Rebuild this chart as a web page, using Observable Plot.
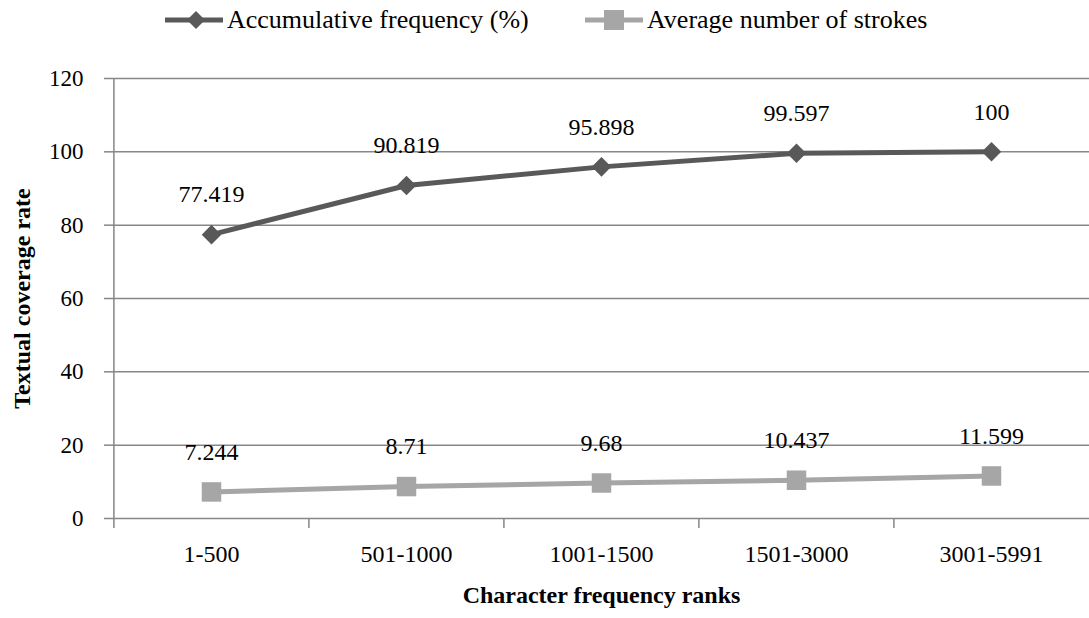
<!DOCTYPE html>
<html>
<head>
<meta charset="utf-8">
<script src="https://cdn.jsdelivr.net/npm/d3@7"></script>
<script src="https://cdn.jsdelivr.net/npm/@observablehq/plot@0.6"></script>
<style>
  body { margin: 0; background: #fff; font-family: "Liberation Serif", "Times New Roman", serif; }
  #legend { position: relative; width: 1089px; height: 50px; font-size: 26px; color: #000; }
  #legend .item { position: absolute; top: 6px; height: 28px; display: flex; align-items: center; white-space: nowrap; }
  #legend svg { display: block; margin-right: 4px; }
  #chart svg { display: block; font-family: "Liberation Serif", "Times New Roman", serif; }
  #chart svg text { font-family: "Liberation Serif", "Times New Roman", serif; }
</style>
</head>
<body>
<div id="legend"></div>
<div id="chart"></div>
<script>
// Character frequency rank groups
const ranks = ["1-500", "501-1000", "1001-1500", "1501-3000", "3001-5991"];
// Accumulative frequency (%) per rank group
const accumulativeFrequency = [77.419, 90.819, 95.898, 99.597, 100];
// Average number of strokes per rank group
const averageStrokes = [7.244, 8.71, 9.68, 10.437, 11.599];
// Value axis ticks
const yTicks = [0, 20, 40, 60, 80, 100, 120];
// Series names and colours
const seriesNames = ["Accumulative frequency (%)", "Average number of strokes"];
const seriesColors = ["#595959", "#a6a6a6"];

const rows = ranks.map((rank, i) => ({
  rank,
  acc: accumulativeFrequency[i],
  strokes: averageStrokes[i]
}));

// ---- legend ----
const legend = document.getElementById("legend");
const legendLeft = [165, 585];
seriesNames.forEach((name, i) => {
  const item = document.createElement("div");
  item.className = "item";
  item.style.left = legendLeft[i] + "px";
  const marker = i === 0
    ? `<polygon points="31,3 40,12 31,21 22,12" fill="${seriesColors[0]}"/>`
    : `<rect x="19" y="2" width="20" height="20" fill="${seriesColors[1]}"/>`;
  item.innerHTML =
    `<svg width="58" height="24"><line x1="0" x2="58" y1="12" y2="12" stroke="${seriesColors[i]}" stroke-width="5"/>${marker}</svg>` +
    `<span>${name}</span>`;
  legend.appendChild(item);
});

// ---- chart ----
const W = 1089, H = 568;
const mL = 113, mR = 0, mT = 28, mB = 100;
const step = (W - mL - mR) / ranks.length;
const axisGray = "#878787";
const serif = "Liberation Serif";

const chart = Plot.plot({
  width: W,
  height: H,
  marginLeft: mL,
  marginRight: mR,
  marginTop: mT,
  marginBottom: mB,
  style: { color: "#000", background: "#fff", overflow: "visible" },
  x: { type: "point", domain: ranks, padding: 0.5, axis: null },
  y: { domain: [0, 120], axis: null },
  marks: [
    Plot.gridY(yTicks, { stroke: axisGray, strokeOpacity: 1, strokeWidth: 1.5 }),
    // vertical value axis line
    Plot.ruleX([ranks[0]], { dx: -step / 2, stroke: axisGray, strokeWidth: 1.5 }),
    // category boundary ticks below the baseline
    Plot.ruleX(ranks, { x: d => d, y1: 0, y2: 0, insetBottom: -10, dx: -step / 2, stroke: axisGray, strokeWidth: 1.5 }),
    Plot.axisY(yTicks, { tickSize: 9, tickPadding: 21, stroke: axisGray, strokeWidth: 1.5, strokeOpacity: 1, fontSize: 23, fontFamily: serif, label: null }),
    Plot.axisX(ranks, { tickSize: 0, tickPadding: 26, fontSize: 24, fontFamily: serif, label: null }),
    // Accumulative frequency series
    Plot.lineY(rows, { x: "rank", y: "acc", stroke: seriesColors[0], strokeWidth: 5 }),
    Plot.dot(rows, { x: "rank", y: "acc", symbol: "diamond2", r: 8.8, fill: seriesColors[0], stroke: "none" }),
    Plot.text(rows, { x: "rank", y: "acc", text: d => String(d.acc), dy: -40, fontSize: 24, fontFamily: serif }),
    // Average strokes series
    Plot.lineY(rows, { x: "rank", y: "strokes", stroke: seriesColors[1], strokeWidth: 5 }),
    Plot.dot(rows, { x: "rank", y: "strokes", symbol: "square", r: 11, fill: seriesColors[1], stroke: "none" }),
    Plot.text(rows, { x: "rank", y: "strokes", text: d => String(d.strokes), dy: -40, fontSize: 24, fontFamily: serif }),
    // axis titles
    Plot.text(["Character frequency ranks"], { text: d => d, frameAnchor: "bottom", dy: 84, lineAnchor: "bottom", fontWeight: "bold", fontSize: 24, fontFamily: serif }),
    Plot.text(["Textual coverage rate"], { text: d => d, frameAnchor: "left", textAnchor: "middle", dx: -91, rotate: -90, fontWeight: "bold", fontSize: 24, fontFamily: serif })
  ]
});
document.getElementById("chart").appendChild(chart);
</script>
</body>
</html>
